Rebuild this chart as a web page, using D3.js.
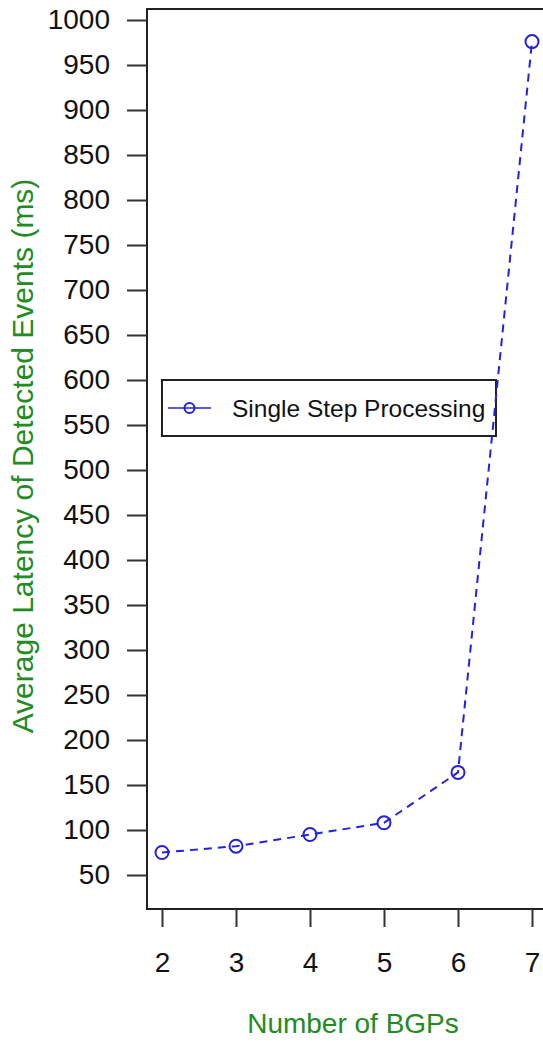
<!DOCTYPE html>
<html>
<head>
<meta charset="utf-8">
<script src="https://cdn.jsdelivr.net/npm/d3@7"></script>
<style>
  body { margin: 0; background: #fff; }
  svg { display: block; font-family: "Liberation Sans", Arial, Helvetica, sans-serif; }
</style>
</head>
<body>
<div id="chart"></div>
<script>
// data
var bgps = [2, 3, 4, 5, 6, 7];
var latency = [75, 82, 95, 108, 164, 976];
var yTicks = [50, 100, 150, 200, 250, 300, 350, 400, 450, 500, 550, 600, 650, 700, 750, 800, 850, 900, 950, 1000];
var xTicks = [2, 3, 4, 5, 6, 7];
var seriesName = "Single Step Processing";

var W = 543, H = 1045;
var box = {left: 147, top: 9, right: 570, bottom: 909};

var svg = d3.select("#chart").append("svg")
    .attr("width", W)
    .attr("height", H);

var x = d3.scaleLinear().domain([2, 7]).range([162, 532]);
var y = d3.scaleLinear().domain([50, 1000]).range([875, 20]);

var blue = "#2222dd", green = "#228b22";

// plot frame
svg.append("rect")
    .attr("x", box.left).attr("y", box.top)
    .attr("width", box.right - box.left)
    .attr("height", box.bottom - box.top)
    .attr("fill", "none")
    .attr("stroke", "#222")
    .attr("stroke-width", 2);

// y axis
var gy = svg.append("g")
    .attr("transform", "translate(" + box.left + ",0)")
    .call(d3.axisLeft(y).tickValues(yTicks).tickSize(20).tickPadding(17).tickFormat(d3.format("d")));
gy.select(".domain").remove();
gy.selectAll(".tick line").attr("stroke", "#333").attr("stroke-width", 2);
gy.selectAll(".tick text").style("font-size", "28px").attr("fill", "#111");

// x axis
var gx = svg.append("g")
    .attr("transform", "translate(0," + box.bottom + ")")
    .call(d3.axisBottom(x).tickValues(xTicks).tickSize(18).tickPadding(25).tickFormat(d3.format("d")));
gx.select(".domain").remove();
gx.selectAll(".tick line").attr("stroke", "#333").attr("stroke-width", 2);
gx.selectAll(".tick text").style("font-size", "28px").attr("fill", "#111");

// axis titles
svg.append("text")
    .attr("transform", "translate(33,456) rotate(-90)")
    .attr("text-anchor", "middle")
    .style("font-size", "30px")
    .attr("fill", green)
    .text("Average Latency of Detected Events (ms)");

svg.append("text")
    .attr("x", 353).attr("y", 1033)
    .attr("text-anchor", "middle")
    .style("font-size", "28px")
    .attr("fill", green)
    .text("Number of BGPs");

// legend
var lg = svg.append("g");
lg.append("rect")
    .attr("x", 162).attr("y", 380)
    .attr("width", 334).attr("height", 56)
    .attr("fill", "#fff")
    .attr("stroke", "#222")
    .attr("stroke-width", 2);
lg.append("line")
    .attr("x1", 168).attr("x2", 211)
    .attr("y1", 408).attr("y2", 408)
    .attr("stroke", blue).attr("stroke-width", 1.5);
lg.append("circle")
    .attr("cx", 189.5).attr("cy", 408).attr("r", 5)
    .attr("fill", "none").attr("stroke", blue).attr("stroke-width", 2);
lg.append("text")
    .attr("x", 232).attr("y", 408)
    .attr("dominant-baseline", "central")
    .style("font-size", "24.5px")
    .attr("fill", "#111")
    .text(seriesName);

// series
var data = bgps.map(function(d, i) { return {b: d, v: latency[i]}; });

svg.append("path")
    .datum(data)
    .attr("fill", "none")
    .attr("stroke", blue)
    .attr("stroke-width", 2)
    .attr("stroke-dasharray", "8,6")
    .attr("d", d3.line().x(function(d) { return x(d.b); }).y(function(d) { return y(d.v); }));

svg.selectAll(".pt")
    .data(data)
    .enter().append("circle")
    .attr("class", "pt")
    .attr("cx", function(d) { return x(d.b); })
    .attr("cy", function(d) { return y(d.v); })
    .attr("r", 6.5)
    .attr("fill", "none")
    .attr("stroke", blue)
    .attr("stroke-width", 2);
</script>
</body>
</html>
